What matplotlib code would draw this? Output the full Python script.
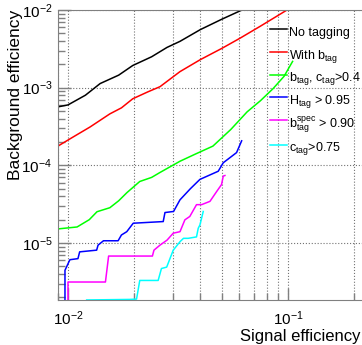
import matplotlib
matplotlib.use('Agg')
import matplotlib.pyplot as plt
import numpy as np
from matplotlib.ticker import LogLocator, NullFormatter


plt.rcParams['font.family'] = ['Liberation Sans', 'DejaVu Sans']
plt.rcParams['mathtext.default'] = 'regular'

# signal efficiency (x) / background efficiency (y)
notag_x = [0.0090, 0.0100, 0.0120, 0.0140, 0.0170, 0.0197, 0.0240, 0.0282, 0.0323, 0.0400, 0.0500, 0.0618]
notag_y = [5.66e-4, 6.0e-4, 8.0e-4, 1.13e-3, 1.45e-3, 1.93e-3, 2.5e-3, 3.3e-3, 3.95e-3, 5.6e-3, 7.6e-3, 1.0e-2]

btag_x = [0.0090, 0.0105, 0.0126, 0.0155, 0.0175, 0.0197, 0.0230, 0.0262, 0.0323, 0.0400, 0.0500, 0.0605, 0.0750, 0.0990]
btag_y = [1.77e-4, 2.3e-4, 3.12e-4, 4.6e-4, 5.5e-4, 7.2e-4, 8.8e-4, 1.03e-3, 1.61e-3, 2.3e-3, 3.2e-3, 4.33e-3, 6.2e-3, 1.0e-2]

bc_x = [0.0090, 0.0110, 0.0125, 0.01355, 0.0155, 0.0170, 0.01854, 0.0212, 0.0240, 0.0262, 0.0323, 0.0380, 0.0456, 0.0550, 0.0652, 0.0750, 0.0855, 0.0960, 0.1050]
bc_y = [1.52e-5, 1.61e-5, 2.0e-5, 2.53e-5, 2.85e-5, 3.5e-5, 4.46e-5, 6.2e-5, 7.0e-5, 8.1e-5, 1.13e-4, 1.4e-4, 1.77e-4, 2.9e-4, 4.88e-4, 6.8e-4, 9.7e-4, 1.4e-3, 2.18e-3]

htag_x = [0.00969, 0.00969, 0.0102, 0.0111, 0.0113, 0.0135, 0.0137, 0.0145, 0.0169, 0.0175, 0.0185, 0.0198, 0.0271, 0.0276, 0.0302, 0.0323, 0.0360, 0.0398, 0.0482, 0.0508, 0.0584, 0.0616]
htag_y = [1.8e-6, 4.46e-6, 6.1e-6, 6.3e-6, 7.7e-6, 8.1e-6, 9.4e-6, 1.07e-5, 1.07e-5, 1.27e-5, 1.40e-5, 1.80e-5, 1.89e-5, 2.47e-5, 2.55e-5, 3.6e-5, 5.0e-5, 6.6e-5, 8.4e-5, 1.08e-4, 1.46e-4, 2.07e-4]

bspec_x = [0.0100, 0.0100, 0.0148, 0.0153, 0.0242, 0.0246, 0.0262, 0.0282, 0.0301, 0.0323, 0.0340, 0.0358, 0.0384, 0.0405, 0.0442, 0.0475, 0.0499, 0.0508, 0.0517]
bspec_y = [1.8e-6, 3.15e-6, 3.15e-6, 6.8e-6, 6.8e-6, 8.1e-6, 9.4e-6, 1.09e-5, 1.34e-5, 1.40e-5, 1.99e-5, 2.2e-5, 3.12e-5, 3.12e-5, 3.44e-5, 4.64e-5, 5.66e-5, 7.27e-5, 7.4e-5]

ctag_x = [0.01216, 0.0191, 0.0205, 0.0212, 0.0257, 0.0266, 0.0281, 0.0301, 0.0323, 0.0335, 0.0352, 0.0384, 0.0391, 0.0398, 0.0412]
ctag_y = [1.85e-6, 1.88e-6, 1.9e-6, 3.3e-6, 3.3e-6, 4.7e-6, 4.9e-6, 8.1e-6, 1.04e-5, 1.15e-5, 1.15e-5, 1.2e-5, 1.55e-5, 1.71e-5, 2.55e-5]

series = [
  (notag_x, notag_y, 'black', 'No tagging'),
  (btag_x, btag_y, '#ff0000', r'With b$_{tag}$'),
  (bc_x, bc_y, '#00ff00', r'b$_{tag}$, c$_{tag}$>0.4'),
  (htag_x, htag_y, '#0000ff', r'H$_{tag}$ > 0.95'),
  (bspec_x, bspec_y, '#ff00ff', r'b$_{tag}^{spec}$ > 0.90'),
  (ctag_x, ctag_y, '#00ffff', r'c$_{tag}$>0.75'),
]


def plot(output):
  fig = plt.figure(figsize=(3.62, 3.45), dpi=100)
  ax = fig.add_axes([0.160, 0.130, 0.85, 0.841])

  for x, y, c, lab in series:
    ax.plot(x, y, color=c, lw=1.1, label=lab)

  ax.set_xscale('log')
  ax.set_yscale('log')
  ax.set_xlim(0.0090, 0.2255)
  ax.set_ylim(1.84e-6, 1.0e-2)

  ax.xaxis.set_minor_locator(LogLocator(base=10, subs=np.arange(2, 10)))
  ax.yaxis.set_minor_locator(LogLocator(base=10, subs=np.arange(2, 10)))
  ax.xaxis.set_minor_formatter(NullFormatter())
  ax.yaxis.set_minor_formatter(NullFormatter())

  ax.grid(True, which='major', axis='both', color='0.45', linestyle=':', lw=0.8)
  ax.grid(True, which='minor', axis='x', color='0.45', linestyle=':', lw=0.8)

  for s in ax.spines.values():
    s.set_color('0.5')
  ax.tick_params(which='both', direction='in', color='0.5', labelsize=11,
                 top=False, right=False)
  ax.tick_params(which='major', length=9, width=1)
  ax.tick_params(which='minor', length=5, width=1)
  ax.tick_params(axis='x', pad=7)
  ax.tick_params(axis='y', pad=4)

  ax.set_xlabel('Signal efficiency', fontsize=12, ha='right')
  ax.xaxis.set_label_coords(0.982, -0.098)
  ax.set_ylabel('Background efficiency', fontsize=12.5, ha='right')
  ax.yaxis.set_label_coords(-0.113, 1.0)

  ax.legend(loc='upper left', bbox_to_anchor=(0.746, 0.935), bbox_transform=fig.transFigure,
            frameon=False, fontsize=9, handlelength=1.35, handletextpad=0.2,
            handleheight=2.0, labelspacing=0.25, borderpad=0, borderaxespad=0)

  fig.savefig(output, dpi=100)


def main():
  plot('out.png')


if __name__ == '__main__':
  main()
